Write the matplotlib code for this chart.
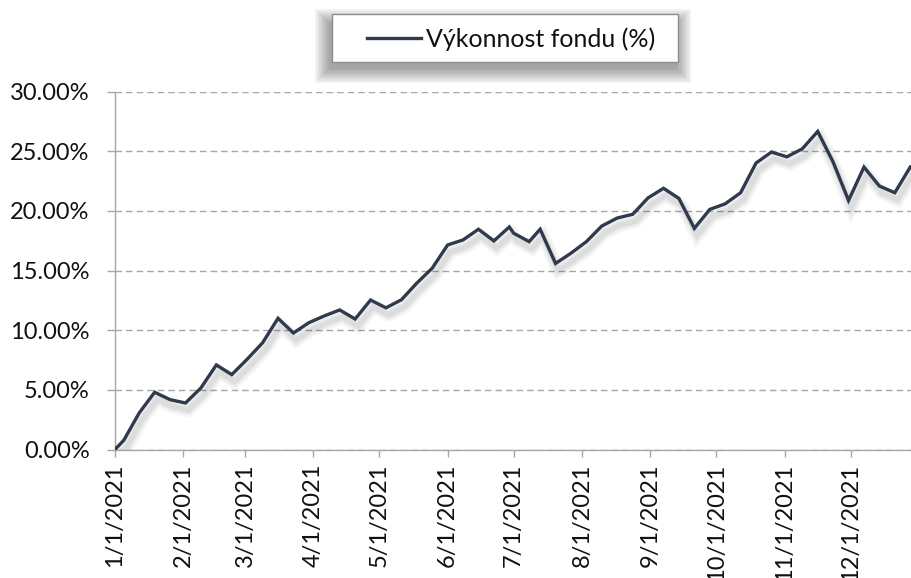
import matplotlib
matplotlib.use("Agg")
import matplotlib.pyplot as plt
import matplotlib.dates as mdates
import matplotlib.patheffects as pe
from matplotlib.patches import Rectangle
import pandas as pd

# ---------------- data ----------------
dates = [
    "2021-01-01", "2021-01-05", "2021-01-12", "2021-01-19", "2021-01-26",
    "2021-02-02", "2021-02-09", "2021-02-16", "2021-02-23",
    "2021-03-02", "2021-03-09", "2021-03-16", "2021-03-23", "2021-03-30",
    "2021-04-06", "2021-04-13", "2021-04-20", "2021-04-27",
    "2021-05-04", "2021-05-11", "2021-05-18", "2021-05-25",
    "2021-06-01", "2021-06-08", "2021-06-15", "2021-06-22", "2021-06-29",
    "2021-07-01", "2021-07-08", "2021-07-13", "2021-07-20", "2021-07-27",
    "2021-08-03", "2021-08-10", "2021-08-17", "2021-08-24", "2021-08-31",
    "2021-09-07", "2021-09-14", "2021-09-21", "2021-09-28",
    "2021-10-05", "2021-10-12", "2021-10-19", "2021-10-26",
    "2021-11-02", "2021-11-09", "2021-11-16", "2021-11-23", "2021-11-30",
    "2021-12-07", "2021-12-14", "2021-12-21", "2021-12-28",
]
values = [
    0.00, 0.78, 3.07, 4.80, 4.18,
    3.90, 5.16, 7.09, 6.28,
    7.57, 8.95, 11.00, 9.77, 10.63,
    11.20, 11.70, 10.94, 12.53,
    11.88, 12.55, 13.95, 15.20,
    17.15, 17.57, 18.47, 17.49, 18.66,
    18.13, 17.43, 18.47, 15.60, 16.46,
    17.43, 18.74, 19.41, 19.72, 21.10,
    21.90, 21.05, 18.54, 20.13,
    20.60, 21.53, 24.02, 24.94,
    24.54, 25.21, 26.67, 24.10, 20.88,
    23.68, 22.09, 21.53, 23.68,
]
series_label = "Výkonnost fondu (%)"
y_ticks = [0, 5, 10, 15, 20, 25, 30]
month_ticks = ["2021-%02d-01" % m for m in range(1, 13)]
month_labels = ["%d/1/2021" % m for m in range(1, 13)]

# ---------------- style ----------------
plt.rcParams["font.family"] = ["Lato", "DejaVu Sans"]
LINE_COLOR = "#2f3b4d"
GRID_COLOR = "#a6a6a6"
TEXT_COLOR = "#111111"
FS = 17
LEG_FS = 18

W, H = 912, 578
fig = plt.figure(figsize=(W / 100, H / 100), dpi=100)
fig.patch.set_facecolor("white")

ax_left, ax_right = 115, 912
ax_top, ax_bottom = 91.7, 449.5
ax = fig.add_axes([ax_left / W, 1 - ax_bottom / H,
                   (ax_right - ax_left) / W, (ax_bottom - ax_top) / H])
ax.set_facecolor("none")
ax.set_zorder(3)

x = pd.to_datetime(dates)
shadow = [
    pe.SimpleLineShadow(offset=(2, -5), shadow_color="black", alpha=0.035, linewidth=10),
    pe.SimpleLineShadow(offset=(2, -5), shadow_color="black", alpha=0.045, linewidth=7),
    pe.SimpleLineShadow(offset=(2, -5), shadow_color="black", alpha=0.06, linewidth=4),
    pe.Normal(),
]
line, = ax.plot(x, values, color=LINE_COLOR, lw=2.4, solid_joinstyle="miter",
                label=series_label, path_effects=shadow, zorder=3, clip_on=True)

x0 = pd.Timestamp("2021-01-01")
ax.set_xlim(mdates.date2num(x0), mdates.date2num(x0) + 361.8)
ax.set_ylim(0, 30)

ax.set_yticks(y_ticks)
ax.set_yticklabels(["%.2f%%" % v for v in y_ticks])
ax.set_xticks(pd.to_datetime(month_ticks))
ax.set_xticklabels(month_labels, rotation=90, ha="center", va="top")

ax.tick_params(axis="y", length=5.8, width=1, color=GRID_COLOR, pad=12.5,
               labelsize=FS, labelcolor=TEXT_COLOR)
ax.tick_params(axis="x", length=5.0, width=1, color=GRID_COLOR, pad=5,
               labelsize=FS, labelcolor=TEXT_COLOR)

ax.yaxis.grid(True, color=GRID_COLOR, lw=1, ls=(0, (4.7, 2.9)))
ax.set_axisbelow(True)
for s in ["top", "right"]:
    ax.spines[s].set_visible(False)
for s in ["left", "bottom"]:
    ax.spines[s].set_color(GRID_COLOR)
    ax.spines[s].set_linewidth(1)

# ---------------- legend ----------------
bx0, by0, bx1, by1 = 331.7, 14, 678.3, 61.7  # pixel box (top-left origin)

def fig_rect(x0p, y0p, x1p, y1p, **kw):
    return Rectangle((x0p / W, 1 - y1p / H), (x1p - x0p) / W, (y1p - y0p) / H,
                     transform=fig.transFigure, **kw)

# blurred shadow
for e in range(14, -1, -2):
    fig.patches.append(fig_rect(bx0 - 3 - e, by0 + 9 - e, bx1 - 1 + e, by1 + 7 + e,
                                facecolor="black", edgecolor="none",
                                alpha=0.05, zorder=1))
fig.patches.append(fig_rect(bx0, by0, bx1, by1, facecolor="white",
                            edgecolor="#8c8c8c", lw=1, zorder=2))

leg = ax.legend(handles=[line], labels=[series_label], loc="center left",
                bbox_to_anchor=(367 / W, 1 - 39 / H), bbox_transform=fig.transFigure,
                frameon=False, borderpad=0, borderaxespad=0,
                handlelength=2.15, handletextpad=0.2, fontsize=LEG_FS)
for t in leg.get_texts():
    t.set_color(TEXT_COLOR)
for h in leg.legend_handles:
    h.set_path_effects([pe.Normal()])

fig.savefig("out.png", dpi=100)
